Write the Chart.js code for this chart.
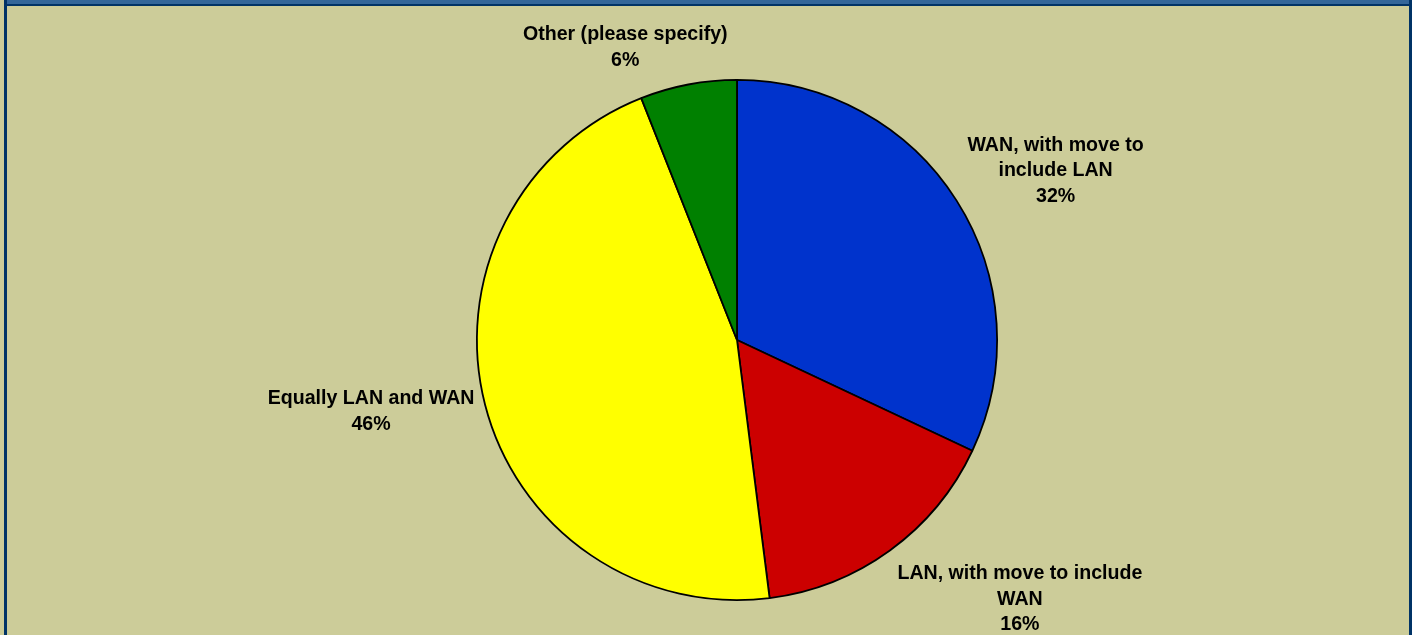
<!DOCTYPE html>
<html>
<head>
<meta charset="utf-8">
<script src="https://cdn.jsdelivr.net/npm/chart.js@4/dist/chart.umd.min.js"></script>
<style>
    html, body { margin: 0; padding: 0; background: #CCCC99; overflow: hidden; }
    #wrap { position: relative; width: 1415px; height: 635px; }
    #chart { position: absolute; left: 0; top: 0; }
    .band { position: absolute; }
</style>
</head>
<body>
<div id="wrap">
    <canvas id="chart" width="1415" height="635"></canvas>
    <div class="band" style="left:4px; top:0; width:1408px; height:4px; background:#336699;"></div>
    <div class="band" style="left:4px; top:4px; width:1408px; height:2px; background:#003366;"></div>
    <div class="band" style="left:4px; top:0; width:3px; height:635px; background:#003366;"></div>
    <div class="band" style="left:1409px; top:0; width:3px; height:635px; background:#003366;"></div>
    <div class="band" style="left:1412px; top:0; width:3px; height:635px; background:#ffffff;"></div>
</div>
<script>
// slices, clockwise from 12 o'clock
const categories = ['WAN, with move to include LAN', 'LAN, with move to include WAN', 'Equally LAN and WAN', 'Other (please specify)'];
const labelLines = [
    ['WAN, with move to', 'include LAN'],
    ['LAN, with move to include', 'WAN'],
    ['Equally LAN and WAN'],
    ['Other (please specify)']
];
const shares = [32, 16, 46, 6];
const sliceColors = ['#0033CC', '#CC0000', '#FFFF00', '#008000'];

// label block offset from the point on the rim at each slice's middle angle
const labelOffsets = [[99, -30], [130, 49], [-114, 7], [-63, -37]];

const pieLabels = {
    id: 'pieLabels',
    afterDatasetsDraw(chart) {
        const ctx = chart.ctx;
        const meta = chart.getDatasetMeta(0);
        ctx.save();
        ctx.font = 'bold 19.6px "Liberation Sans", Arial, sans-serif';
        ctx.fillStyle = '#000000';
        ctx.textAlign = 'center';
        ctx.textBaseline = 'middle';
        const lineH = 25.5;
        meta.data.forEach((arc, i) => {
            const p = arc.getProps(['x', 'y', 'startAngle', 'endAngle', 'outerRadius'], true);
            const mid = (p.startAngle + p.endAngle) / 2;
            const ex = p.x + Math.cos(mid) * p.outerRadius;
            const ey = p.y + Math.sin(mid) * p.outerRadius;
            const lines = labelLines[i].concat([shares[i] + '%']);
            const cx = ex + labelOffsets[i][0];
            const cy = ey + labelOffsets[i][1];
            const top = cy - (lines.length - 1) * lineH / 2;
            lines.forEach((t, k) => ctx.fillText(t, cx, top + k * lineH));
        });
        ctx.restore();
    }
};

new Chart(document.getElementById('chart').getContext('2d'), {
    type: 'pie',
    data: {
        labels: categories,
        datasets: [{
            data: shares,
            backgroundColor: sliceColors,
            borderColor: '#000000',
            borderWidth: 1.8,
            borderAlign: 'center'
        }]
    },
    options: {
        responsive: false,
        animation: false,
        layout: { padding: { left: 476, right: 417, top: 79, bottom: 34 } },
        plugins: {
            legend: { display: false },
            tooltip: { enabled: false }
        }
    },
    plugins: [pieLabels]
});
</script>
</body>
</html>
